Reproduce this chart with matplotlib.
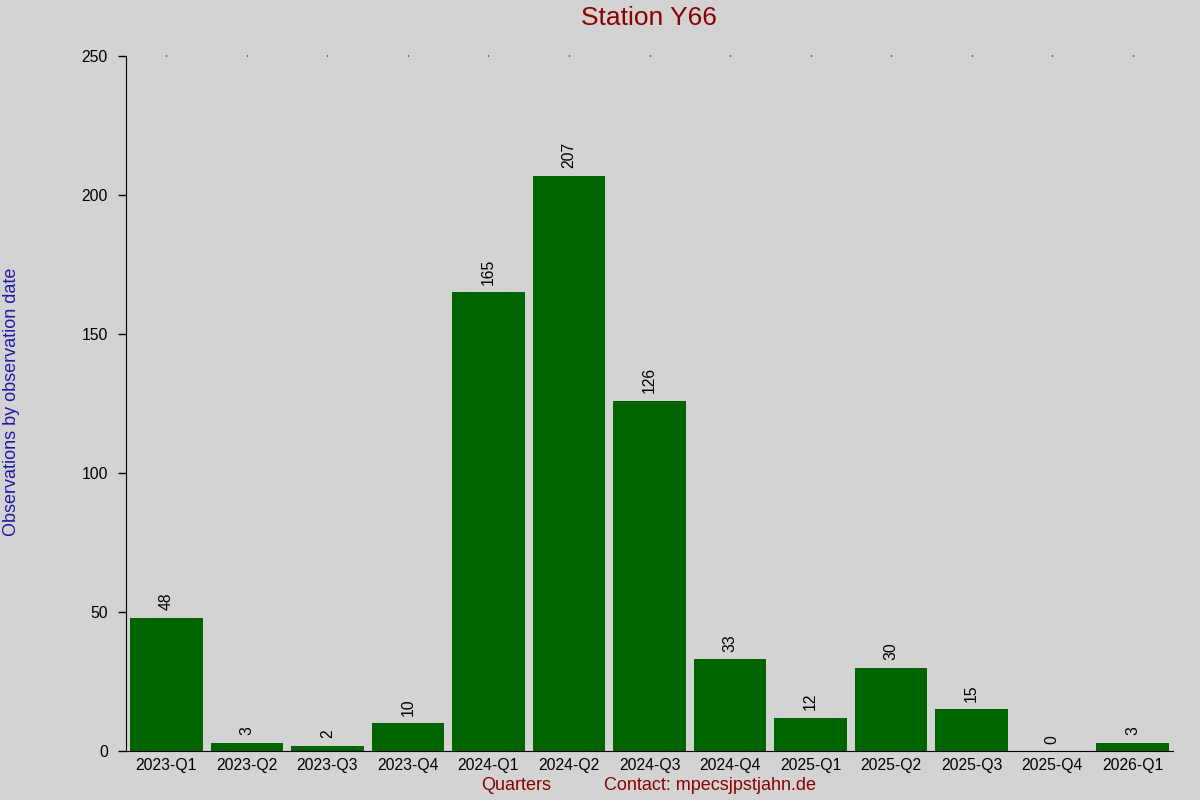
import matplotlib
matplotlib.use('Agg')
import matplotlib.pyplot as plt

# ── data ─────────────────────────────────────────────────────────────────────
quarters = ['2023-Q1', '2023-Q2', '2023-Q3', '2023-Q4',
            '2024-Q1', '2024-Q2', '2024-Q3', '2024-Q4',
            '2025-Q1', '2025-Q2', '2025-Q3', '2025-Q4', '2026-Q1']
counts = [48, 3, 2, 10, 165, 207, 126, 33, 12, 30, 15, 0, 3]
y_ticks = [0, 50, 100, 150, 200, 250]

# ── colours ──────────────────────────────────────────────────────────────────
BG = '#d3d3d3'
BAR = '#006400'
RED = '#8b0000'
BLUE = '#1a1aa6'

plt.rcParams['font.family'] = ['Liberation Sans', 'DejaVu Sans']

fig = plt.figure(figsize=(12, 8), dpi=100, facecolor=BG)
ax = fig.add_axes([0.105, 0.061, 0.8725, 0.869])
ax.set_facecolor(BG)

x = list(range(len(quarters)))
ax.bar(x, counts, width=0.9, color=BAR)

for xi, v in zip(x, counts):
    ax.annotate(str(v), (xi, v), xytext=(0, 5.5), textcoords='offset points',
                rotation=90, ha='center', va='bottom', fontsize=11.3)

ax.set_xlim(-0.5, 12.5)
ax.set_ylim(0, 250)
ax.set_yticks(y_ticks)
ax.set_xticks(x)
ax.set_xticklabels(quarters, fontsize=11.3)
ax.tick_params(axis='x', length=0, pad=5)
ax.tick_params(axis='y', length=6, width=1, labelsize=11.3, pad=7)

for side in ('top', 'right'):
    ax.spines[side].set_visible(False)

# faint dots along the top edge at each category
top = ax.secondary_xaxis('top')
top.set_xticks(x)
top.set_xticklabels([])
top.tick_params(length=1, width=1)
top.spines['top'].set_visible(False)

fig.text(0.541, 0.9775, 'Station Y66', ha='center', va='center',
         color=RED, fontsize=19)
fig.text(0.0025, 0.4975, 'Observations by observation date', rotation=90,
         ha='left', va='center', color=BLUE, fontsize=13)
fig.text(0.43, 0.0175, 'Quarters', ha='center', va='center',
         color=RED, fontsize=13)
fig.text(0.592, 0.0175, 'Contact: mpecsjpstjahn.de', ha='center', va='center',
         color=RED, fontsize=13)

fig.savefig('out.png', dpi=100, facecolor=BG)
